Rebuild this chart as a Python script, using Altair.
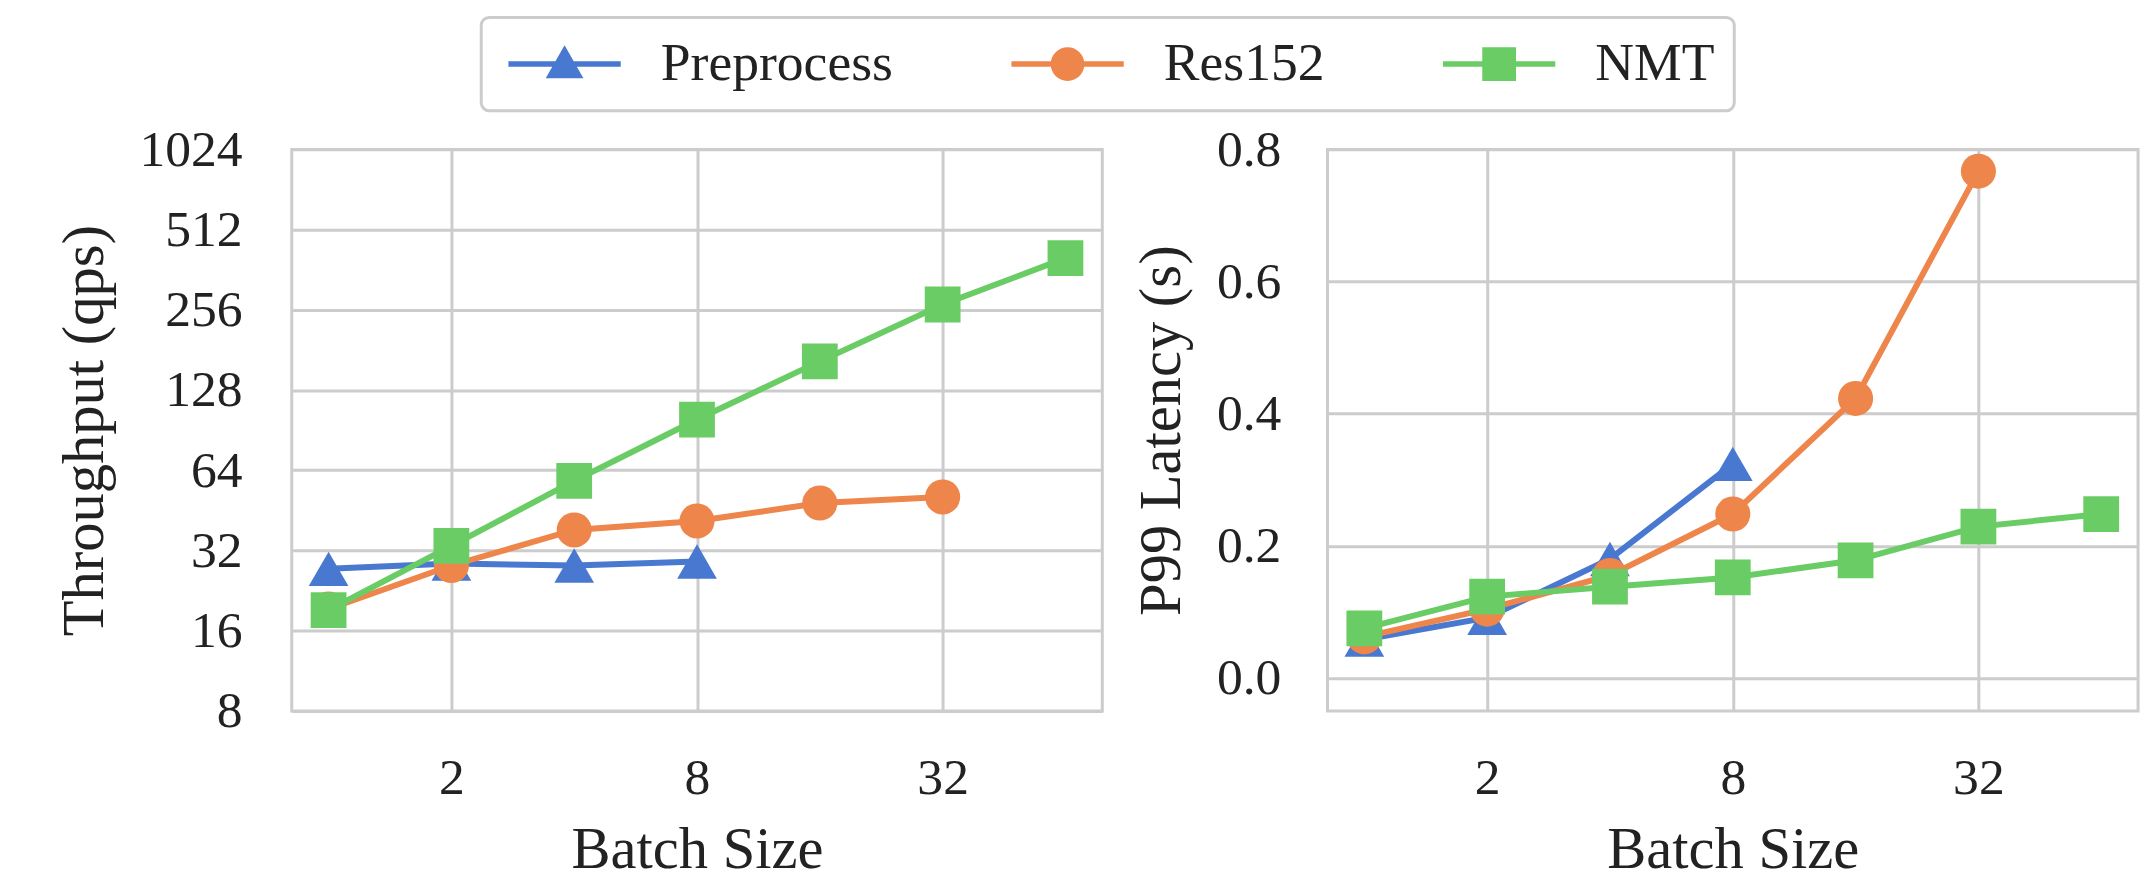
import altair as alt
import pandas as pd

# ---- data ----
batch = [1, 2, 4, 8, 16, 32, 64]
names = ["Preprocess", "Res152", "NMT"]
colors = ["#4878d0", "#ee854a", "#6acc64"]

pre_thr = [27.3, 28.6, 28.1, 29.1]
res_thr = [19.3, 28.1, 38.2, 41.3, 48.2, 50.8]
nmt_thr = [19.1, 33.3, 58.4, 99.2, 164, 268, 400]

pre_lat = [0.058, 0.091, 0.180, 0.324]
res_lat = [0.062, 0.104, 0.155, 0.248, 0.423, 0.767]
nmt_lat = [0.075, 0.123, 0.138, 0.152, 0.178, 0.229, 0.248]

x_ticks = [2, 8, 32]
thr_ticks = [8, 16, 32, 64, 128, 256, 512, 1024]
lat_ticks = [0.0, 0.2, 0.4, 0.6, 0.8]

rows = []
for name, thr, lat in zip(names, [pre_thr, res_thr, nmt_thr], [pre_lat, res_lat, nmt_lat]):
    for b, t, l in zip(batch, thr, lat):
        rows.append({"series": name, "batch": b, "thr": t, "lat": l})
df = pd.DataFrame(rows)

FONT = "Liberation Serif"
TXT = "#222222"
GRID = "#cccccc"

marker_shapes = ["triangle-up", "circle", "square"]
marker_sizes = [1600, 1250, 1300]

bar = "M-2.83 -0.14 L2.83 -0.14 L2.83 0.14 L-2.83 0.14 Z "
legend_paths = [
    bar + "M0 -0.95 L0.95 0.72 L-0.95 0.72 Z",
    bar + "M0.85 0 A0.85 0.85 0 1 1 -0.85 0 A0.85 0.85 0 1 1 0.85 0 Z",
    bar + "M-0.85 -0.85 L0.85 -0.85 L0.85 0.85 L-0.85 0.85 Z",
]

x_scale = alt.Scale(type="log", base=2, domain=[2 ** -0.3, 2 ** 6.3], nice=False)
x_axis = alt.Axis(values=x_ticks, format="d", title="Batch Size",
                  labelPadding=42, titlePadding=18)

W, H = 817, 566


def panel(ycol, y_scale, y_axis, with_legend):
    layers = []
    for name, col, shp, sz in zip(names, colors, marker_shapes, marker_sizes):
        base = alt.Chart(df[df.series == name]).encode(
            x=alt.X("batch:Q", scale=x_scale, axis=x_axis),
            y=alt.Y(f"{ycol}:Q", scale=y_scale, axis=y_axis),
        )
        layers.append(base.mark_line(color=col, strokeWidth=6))
        layers.append(base.mark_point(shape=shp, size=sz, color=col, filled=True,
                                      opacity=1, strokeWidth=0))
    if with_legend:
        # legend-only layer: no rows survive the filter, so nothing is drawn in the plot
        leg = alt.Chart(df).transform_filter("false").mark_point(
            filled=True, size=1600, strokeWidth=0, opacity=1
        ).encode(
            x=alt.X("batch:Q", scale=x_scale, axis=x_axis),
            y=alt.Y(f"{ycol}:Q", scale=y_scale, axis=y_axis),
            fill=alt.Fill(
                "series:N", scale=alt.Scale(domain=names, range=colors),
                legend=alt.Legend(
                    title=None, orient="none", direction="horizontal", columns=3,
                    legendX=191, legendY=-133,
                    labelFont=FONT, labelFontSize=54, labelColor=TXT, labelLimit=600,
                    symbolSize=1600, symbolStrokeWidth=0, symbolOpacity=1,
                    symbolOffset=37, labelOffset=70, columnPadding=112,
                    padding=20, strokeColor=GRID, fillColor="white", cornerRadius=8,
                ),
            ),
            shape=alt.Shape("series:N", scale=alt.Scale(domain=names, range=legend_paths)),
        )
        layers.append(leg)
    return alt.layer(*layers).properties(width=W, height=H)


left = panel(
    "thr",
    alt.Scale(type="log", base=2, domain=[8, 1024], nice=False),
    alt.Axis(values=thr_ticks, format="d", title="Throughput (qps)",
             labelPadding=50, titlePadding=25),
    True,
)
right = panel(
    "lat",
    alt.Scale(domain=[-0.05, 0.8], nice=False, zero=False),
    alt.Axis(values=lat_ticks, format=".1f", title="P99 Latency (s)",
             labelPadding=47, titlePadding=25),
    False,
)

chart = alt.hconcat(left, right, spacing=27).properties(
    padding={"left": 46, "top": 4, "right": 5, "bottom": 0}
).configure_view(
    stroke=GRID, strokeWidth=3
).configure_axis(
    grid=True, gridColor=GRID, gridWidth=3, domain=False, ticks=False,
    labelFont=FONT, labelFontSize=52, labelColor=TXT,
    titleFont=FONT, titleFontSize=59, titleFontWeight="normal", titleColor=TXT,
).configure_legend(
    strokeWidth=3
)

chart.save("out.html", embed_options={"renderer": "svg", "actions": False})
